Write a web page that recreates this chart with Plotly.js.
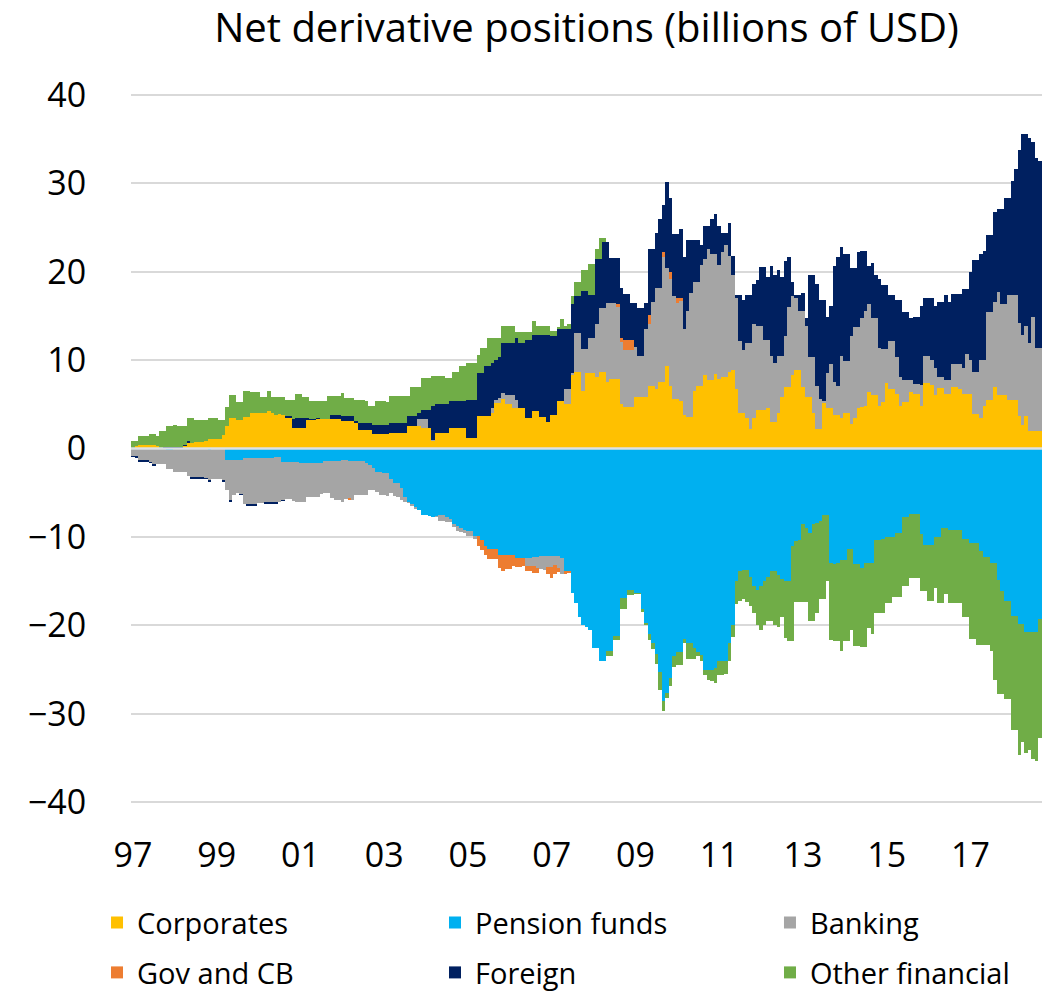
<!DOCTYPE html>
<html>
<head>
<meta charset="utf-8">
<script src="https://cdn.plot.ly/plotly-3.0.1.min.js"></script>
<style>
html,body{margin:0;padding:0;background:#fff;}
#chart{width:1042px;height:994px;}
</style>
</head>
<body>
<div id="chart"></div>
<script>
// Monthly series, January 1997 onwards (billions of USD)
const startYear = 1997;

const corporates = [
 0.1,0.3,0.4,0.4,0.4,0.4,0.4,0.3,0.1,0,0,0,
 0,0,0,0.3,0.6,0.6,0.75,0.75,0.75,0.8,1.1,1.1,
 1.1,1.1,1.5,2.6,3.5,3.5,3.2,3.2,3.6,3.6,4.0,4.0,
 4.0,4.0,4.0,4.2,4.0,3.8,3.9,3.8,3.5,3.5,2.3,2.3,
 2.3,2.3,3.2,3.2,3.2,3.3,3.3,3.3,3.3,3.35,3.35,3.35,
 3.1,3.1,3.1,3.1,2.9,2.1,2.1,2.1,2.1,1.6,1.6,1.6,
 1.6,1.6,1.8,1.8,1.8,1.8,1.8,2.6,2.6,2.6,2.5,2.3,
 2.3,2.3,0.8,1.8,1.8,1.8,1.8,2.3,2.3,2.3,2.3,2.3,
 1.2,1.2,1.2,3.65,3.65,3.65,3.65,4.0,5.2,5.2,5.6,5.0,
 5.0,4.6,4.6,4.6,4.6,3.5,3.5,4.2,4.2,3.6,3.6,3.0,
 3.8,3.8,5.4,5.4,5.0,5.0,8.3,8.6,8.6,6.5,8.5,8.5,
 8.5,8.1,8.6,8.6,7.5,7.9,7.9,7.9,5.0,4.7,4.7,4.7,
 5.85,5.85,5.85,5.85,7.1,7.1,6.7,7.5,7.5,9.3,7.1,5.65,
 5.65,5.4,3.8,3.6,3.6,6.5,7.1,7.1,8.3,7.8,7.8,8.4,
 7.9,8.1,8.1,8.7,8.9,6.7,4.0,4.0,3.4,2.2,3.4,4.4,
 4.4,4.4,4.6,3.0,3.0,4.0,5.85,6.9,6.9,8.3,8.9,8.9,
 6.9,5.85,5.85,4.0,2.2,2.2,5.2,4.6,4.6,3.8,3.8,3.4,
 4.0,4.0,2.8,3.4,4.6,4.7,4.8,6.4,6.0,6.0,4.8,5.3,
 7.4,6.7,6.7,6.2,4.8,5.3,5.3,6.4,6.2,6.2,4.8,7.4,
 7.4,7.2,6.0,6.8,6.8,6.2,6.2,6.9,6.9,6.7,6.2,6.2,
 6.2,3.9,3.9,3.4,4.8,5.5,5.5,6.9,6.0,6.0,6.0,5.5,
 5.5,5.5,3.7,2.7,3.7,2.0,2.0,2.0,2.0
];

const pensionFunds = [
 0,0,0,0,0,0,0,0,0,0,-0.2,-0.2,
 0,0,0,0,0,0,0,0,0,0,-0.2,0,
 0,0,0,-1.3,-1.3,-1.3,-1.3,-1.3,-1.1,-1.1,-1.1,-1.1,
 -1.1,-1.1,-1.1,-1.1,-1.1,-1.0,-1.0,-1.5,-1.5,-1.5,-1.5,-1.5,
 -1.6,-1.6,-1.6,-1.6,-1.6,-1.6,-1.6,-1.4,-1.4,-1.4,-1.4,-1.4,
 -1.3,-1.3,-1.4,-1.4,-1.4,-1.4,-1.4,-1.6,-1.9,-2.2,-2.6,-2.7,
 -2.75,-2.8,-3.5,-3.9,-3.9,-4.5,-5.5,-6.0,-6.3,-6.6,-7.0,-7.5,
 -7.5,-7.6,-7.8,-7.6,-7.5,-7.5,-7.8,-8.0,-8.5,-8.8,-9.0,-9.2,
 -9.3,-9.3,-9.9,-9.9,-10.3,-11.0,-11.4,-11.4,-11.4,-12.0,-12.0,-12.0,
 -12.0,-12.0,-12.4,-12.4,-12.4,-12.4,-12.4,-12.3,-12.3,-12.2,-12.2,-12.2,
 -12.2,-12.2,-12.2,-12.4,-13.9,-13.9,-16.3,-17.5,-19.0,-20.0,-20.2,-20.5,
 -22.5,-22.5,-24.0,-24.0,-22.9,-22.9,-21.2,-21.2,-16.9,-16.9,-16.0,-16.0,
 -16.3,-16.3,-18.2,-19.7,-21.0,-22.0,-23.2,-25.3,-28.5,-27.6,-26.0,-23.5,
 -23.0,-23.0,-21.5,-22.0,-22.0,-22.5,-23.0,-23.4,-25.0,-25.0,-25.0,-24.8,
 -24.0,-24.0,-24.0,-22.0,-20.0,-15.0,-13.9,-13.7,-13.7,-14.5,-15.6,-16.0,
 -15.5,-15.0,-14.5,-13.9,-13.9,-14.3,-14.8,-15.0,-15.0,-11.0,-10.5,-10.3,
 -8.5,-9.0,-9.5,-8.5,-8.4,-8.2,-7.5,-7.5,-13.0,-13.1,-13.0,-12.6,
 -12.6,-11.4,-11.4,-13.1,-13.1,-13.5,-13.0,-13.0,-13.0,-10.4,-10.4,-10.2,
 -10.0,-10.0,-10.0,-9.5,-9.5,-7.8,-7.8,-7.4,-7.4,-7.4,-9.7,-10.9,
 -10.9,-10.9,-10.0,-10.0,-9.0,-9.0,-9.2,-9.2,-9.2,-9.2,-10.2,-10.2,
 -10.7,-10.7,-10.7,-11.6,-12.3,-12.3,-13.0,-13.0,-14.9,-16.1,-17.2,-17.2,
 -18.9,-18.9,-19.8,-19.8,-20.8,-20.8,-20.8,-20.8,-19.3
];

const banking = [
 -0.8,-0.9,-1.3,-1.3,-1.3,-1.5,-1.7,-1.8,-1.8,-1.8,-2.1,-2.1,
 -2.7,-2.7,-2.7,-2.7,-3.1,-3.2,-3.2,-3.2,-3.2,-3.3,-3.4,-3.4,
 -3.4,-3.4,-3.6,-3.4,-4.5,-3.9,-3.7,-3.8,-5.2,-5.2,-5.2,-5.2,
 -5.1,-5.1,-5.0,-5.0,-5.0,-5.1,-5.1,-4.3,-4.2,-4.2,-4.4,-4.5,
 -4.4,-4.4,-3.9,-3.9,-3.9,-3.9,-3.5,-3.6,-3.6,-4.2,-4.4,-4.4,
 -4.7,-4.4,-4.15,-4.4,-3.9,-3.9,-3.9,-3.7,-2.8,-2.5,-2.3,-2.5,
 -2.45,-2.6,-1.5,-1.5,-1.6,-1.3,-0.5,-0.2,-0.2,-0.2,0.8,1.05,
 1.05,0,0.2,-0.2,-0.7,-0.7,-0.5,-0.3,-0.4,-0.5,-0.4,-0.3,
 -0.6,-0.6,-0.3,0,0,0,0,0.6,0.3,0.5,0.7,1.05,
 1.05,1.45,0.9,0,0,-0.9,-0.9,-1.0,-1.2,-1.4,-1.5,-1.2,
 -1.2,-1.0,-1.3,-1.8,1.7,1.7,0.2,4.5,4.5,4.8,2.8,4.0,
 4.0,6.0,7.3,7.3,9.0,8.6,8.6,8.1,7.0,6.4,6.4,6.4,
 5.65,4.65,4.65,7.65,7.0,9.5,11.5,10.7,14.1,11.1,12.1,11.55,
 10.85,11.3,9.7,11.9,14.0,12.3,11.7,13.7,13.1,14.8,14.2,13.6,
 12.9,14.1,14.9,13.1,10.7,10.3,8.1,7.1,8.5,9.7,10.7,9.5,
 9.5,7.9,7.7,7.5,6.7,6.5,4.65,5.8,9.1,8.9,8.1,6.6,
 8.6,8.05,4.45,6.3,4.9,3.45,0.2,3.9,4.9,3.7,3.3,7.1,
 5.9,5.9,9.9,10.3,9.1,10.1,10.7,9.9,8.7,8.7,6.6,5.9,
 3.8,5.4,5.4,4.2,3.3,2.4,2.4,1.3,1.1,1.1,2.4,3.1,
 3.1,2.8,3.1,1.3,1.3,1.5,1.5,2.6,2.6,2.8,2.9,4.5,
 3.8,4.7,4.7,6.6,5.2,9.9,9.9,9.7,11.7,10.3,10.3,11.8,
 11.8,11.8,10.5,10.1,10.1,9.9,12.9,9.4,9.4
];

const govAndCB = [
 0,0,0,0,0,0,0,0,0,0,0,0,
 0,0,0,0,0,0,0,0,0,0,0,0,
 0,0,0,0,0,0,0,0,0,0,0,0,
 0,0,0,0,0,0,0,0,0,0,0,0,
 0,0,0,0,0,0,0,0,0,0,0,0,
 0,0,-0.25,0,0,0,0,0,0,0,0,0,
 0,0,0,0,0,0,0,0,0,0,0,0,
 0,0,0,0,0,0,0,0,0,0,0,0,
 0,0,0,-1.1,-1.2,-1.0,-1.1,-1.1,-1.1,-1.5,-1.8,-1.6,
 -1.6,-1.3,-1.0,-1.0,-0.9,-0.6,-0.6,-0.8,-0.6,0,0,-0.8,
 -1.2,-1.0,-0.5,0,-0.3,-0.2,0,0,0,0,0,0,
 0,0,0,0,0,0,0,0.3,0.5,1.2,1.2,1.2,
 0,0,0,0,1.0,0,0,0,0.6,0,0.8,0,
 0.5,0.3,0,0,0,0,0,0,0,0,0,0,
 0,0,0,0,0,0,0,0,0,0,0,0,
 0,0,0,0,0,0,0,0,0,0,0,0,
 0,0,0,0,0,0,0,0,0,0,0,0,
 0,0,0,0,0,0,0,0,0,0,0,0,
 0,0,0,0,0,0,0,0,0,0,0,0,
 0,0,0,0,0,0,0,0,0,0,0,0,
 0,0,0,0,0,0,0,0,0,0,0,0,
 0,0,0,0,0,0,0,0,0
];

const foreign = [
 -0.15,-0.2,-0.2,-0.2,-0.2,-0.1,-0.3,0,0,0.15,0.15,0.15,
 0.15,0.15,0.15,0.15,0.3,-0.2,-0.2,-0.2,-0.2,-0.2,-0.2,0,
 0,0,-0.2,0,-0.2,-0.1,0,-0.2,0,-0.2,-0.2,-0.2,
 0,0,-0.2,-0.2,-0.2,-0.2,0,-0.15,0.2,0.2,1.0,1.2,
 1.2,1.2,0.2,0.1,0.1,0.1,0,0,0,0.45,0.45,0.45,
 0.55,0.55,0.55,0.55,0.2,0.8,0.8,0.8,0.8,1.1,1.1,1.1,
 1.1,1.1,1.1,1.1,1.1,1.1,1.1,1.05,1.05,1.05,0.7,1.05,
 1.05,2.1,3.8,3.2,3.2,3.2,3.2,3.05,3.05,3.05,3.05,3.05,
 4.3,4.3,4.3,4.85,4.85,5.65,5.65,5.1,4.5,4.6,5.6,5.85,
 5.85,5.85,7.0,7.3,7.3,8.8,8.8,8.6,8.6,9.2,9.2,9.8,
 8.9,8.9,8.1,8.1,6.8,6.8,7.8,4.1,4.1,6.5,6.5,4.9,
 4.9,7.3,5.5,7.4,6.8,5.0,5.0,5.2,5.7,5.2,5.2,4.1,
 4.9,5.4,5.4,2.9,7.5,6.0,6.2,7.8,5.3,9.7,8.3,7.0,
 7.2,7.8,8.1,8.1,6.0,4.8,4.8,2.2,3.8,2.6,4.0,4.5,
 4.4,2.2,1.4,3.7,2.2,0.4,5.3,5.7,5.5,5.5,4.5,5.1,
 6.6,8.2,7.1,10.1,9.9,9.7,8.9,8.5,5.6,1.6,0.4,1.9,
 2.1,0.8,9.3,9.3,11.5,11.15,11.4,6.4,6.6,13.1,14.5,12.3,
 12.1,12.1,7.7,6.7,8.5,7.5,6.8,4.3,6.3,4.9,7.8,7.3,
 7.3,5.2,5.2,6.4,8.7,7.7,7.7,7.1,7.6,7.6,8.9,6.5,
 6.5,7.0,7.0,8.5,8.5,9.6,8.9,8.0,8.0,8.0,8.9,7.3,
 9.9,12.7,12.7,12.0,12.3,8.7,8.7,10.1,9.4,10.8,12.0,11.0,
 12.9,14.3,19.5,22.8,21.8,23.2,19.7,21.4,21.1
];

const otherFinancial = [
 0.8,0.6,1.0,1.0,1.0,1.2,1.2,1.1,1.9,1.85,2.35,2.35,
 2.55,2.45,2.45,2.15,2.6,2.9,2.45,2.45,2.45,2.4,2.3,2.3,
 2.3,2.1,1.7,2.1,2.5,2.5,2.1,2.1,2.9,2.9,2.4,2.4,
 2.4,1.8,1.8,2.3,1.8,2.0,1.9,2.0,1.8,1.8,2.2,2.7,
 2.7,2.3,2.4,2.1,2.1,2.0,2.05,2.05,2.6,2.1,2.1,2.1,
 2.65,2.05,2.05,2.05,2.4,2.6,2.6,2.45,1.9,2.1,2.65,2.65,
 2.65,2.6,3.0,3.0,3.0,3.0,3.0,2.25,3.35,3.35,3.0,3.6,
 3.6,3.6,3.4,3.2,3.2,3.2,3.0,2.65,3.35,3.35,3.95,3.95,
 4.2,4.2,4.2,2.1,2.9,2.1,3.2,2.8,2.5,2.2,2.0,1.95,
 1.95,1.95,0.7,1.3,1.3,0.9,0.9,1.6,1.05,1.05,1.05,1.05,
 0.6,0.6,0.2,1.1,0.4,0.6,0.9,1.6,1.6,2.4,2.4,3.5,
 3.5,1.2,2.4,0.5,-0.6,-0.6,-0.4,-0.4,-1.3,-1.3,-0.6,-0.6,
 -0.2,-0.2,-0.3,-0.3,-0.7,-0.7,-1.2,-2.0,-1.2,-0.6,-0.9,-1.2,
 -1.5,-1.5,-0.5,-1.8,-1.8,-1.3,-0.5,-0.6,-0.6,-1.2,-1.3,-1.7,
 -1.6,-1.6,-1.5,-2.0,-1.3,-2.6,-3.3,-3.3,-3.7,-3.3,-3.0,-4.0,
 -5.0,-5.0,-5.0,-5.6,-6.1,-5.9,-4.2,-6.4,-6.8,-10.8,-6.9,-7.1,
 -8.9,-8.4,-10.0,-11.0,-10.2,-8.8,-9.5,-7.5,-8.6,-8.7,-8.8,-10.3,
 -9.2,-10.4,-9.1,-9.2,-9.2,-8.9,-9.4,-7.3,-8.0,-8.2,-8.2,-8.4,
 -7.5,-7.5,-6.8,-7.3,-7.3,-7.8,-7.8,-7.2,-7.2,-7.2,-6.4,-5.2,
 -6.3,-6.3,-5.8,-7.5,-8.5,-7.4,-8.3,-8.3,-8.3,-8.3,-8.9,-8.9,
 -10.8,-10.8,-11.5,-10.6,-9.9,-9.9,-9.9,-13.2,-12.9,-11.7,-11.1,-11.1,
 -12.9,-12.9,-14.8,-13.4,-13.6,-13.3,-14.3,-14.5,-13.4
];

const tickYears = [1997,1999,2001,2003,2005,2007,2009,2011,2013,2015,2017];
const tickLabels = ['97','99','01','03','05','07','09','11','13','15','17'];
const yTicks = [-40,-30,-20,-10,0,10,20,30,40];

const seriesNames = ['Corporates','Pension funds','Banking','Gov and CB','Foreign','Other financial'];
const seriesValues = [corporates, pensionFunds, banking, govAndCB, foreign, otherFinancial];
const seriesColors = ['#FFC000','#00B0F0','#A5A5A5','#ED7D31','#002060','#70AD47'];
const legendIds = ['legend','legend2','legend3','legend4','legend5','legend6'];

// month positions as fractional years
const months = corporates.map((_, i) => startYear + i / 12);

const traces = seriesNames.map((name, k) => ({
  type: 'bar',
  name: name,
  x: months,
  y: seriesValues[k],
  marker: {color: seriesColors[k], line: {width: 0}},
  legend: legendIds[k],
  showlegend: true,
  hoverinfo: 'skip'
}));

const FONT = 'Open Sans, Arial, sans-serif';

// legend grid: 3 columns x 2 rows (paper coordinates)
const legendCols = [-0.0373, 0.3337, 0.7014];
const legendRows = [-0.104, -0.171];

function legendAt(col, row) {
  return {
    visible: true,
    orientation: 'h',
    x: legendCols[col], xanchor: 'left',
    y: legendRows[row], yanchor: 'top',
    font: {family: FONT, size: 29, color: '#000'},
    bgcolor: 'rgba(0,0,0,0)'
  };
}

const layout = {
  width: 1042, height: 994,
  margin: {l: 131, r: 0, t: 77, b: 174, pad: 0, autoexpand: false},
  paper_bgcolor: '#ffffff',
  plot_bgcolor: '#ffffff',
  barmode: 'relative',
  bargap: 0,
  showlegend: true,
  font: {family: FONT, color: '#000'},
  title: {
    text: 'Net derivative positions (billions of USD)',
    font: {family: FONT, size: 40, color: '#000'},
    x: 0.5, xref: 'paper', xanchor: 'center',
    y: 0.972, yref: 'container', yanchor: 'middle'
  },
  xaxis: {
    range: [1996.955, 2018.71],
    tickmode: 'array', tickvals: tickYears, ticktext: tickLabels,
    showgrid: false, zeroline: false, showline: false,
    ticks: 'outside', ticklen: 5, tickcolor: 'rgba(0,0,0,0)',
    tickfont: {family: FONT, size: 34, color: '#000'},
    fixedrange: true
  },
  yaxis: {
    range: [-42, 42],
    tickmode: 'array', tickvals: yTicks,
    showgrid: true, gridcolor: '#d9d9d9', gridwidth: 2,
    zeroline: false, showline: false,
    ticks: 'outside', ticklen: 37, tickcolor: 'rgba(0,0,0,0)',
    tickfont: {family: FONT, size: 34, color: '#000'},
    fixedrange: true
  },
  legend: legendAt(0, 0),
  legend2: legendAt(1, 0),
  legend3: legendAt(2, 0),
  legend4: legendAt(0, 1),
  legend5: legendAt(1, 1),
  legend6: legendAt(2, 1),
  shapes: [{
    type: 'line', layer: 'above',
    xref: 'paper', x0: 0, x1: 1,
    yref: 'y', y0: 0, y1: 0,
    line: {color: '#dde1e4', width: 2.5}
  }]
};

Plotly.newPlot('chart', traces, layout, {staticPlot: true, displayModeBar: false});
</script>
</body>
</html>
